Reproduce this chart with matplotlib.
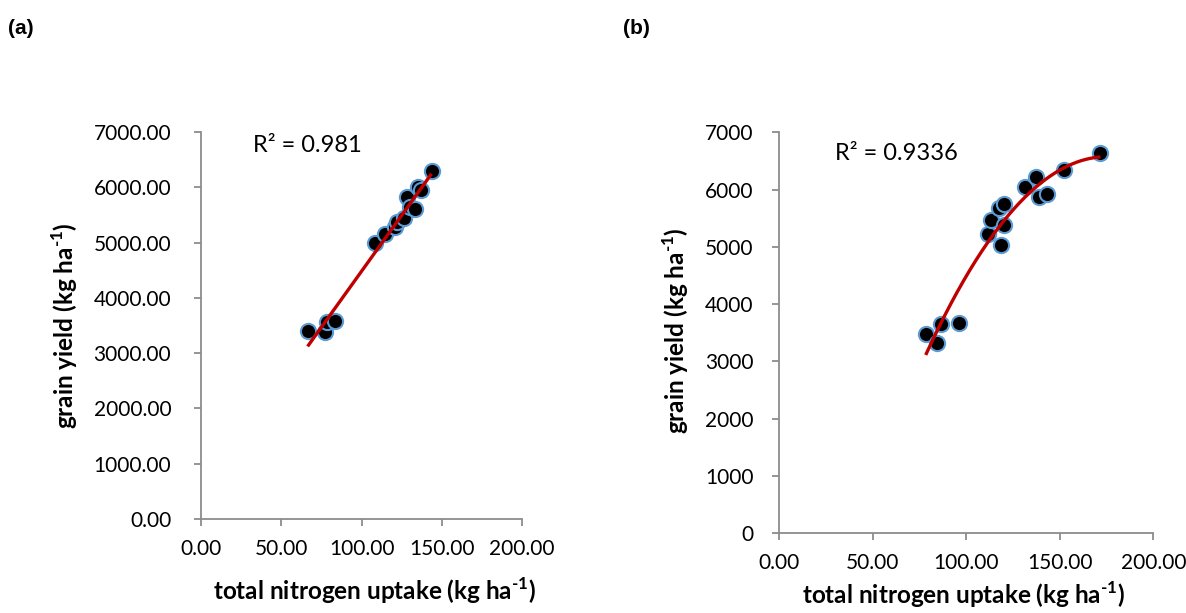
import numpy as np
import matplotlib
matplotlib.use("Agg")
import matplotlib.pyplot as plt
from matplotlib.ticker import FormatStrFormatter

plt.rcParams["font.family"] = ["Lato", "DejaVu Sans"]
plt.rcParams["mathtext.fontset"] = "custom"
plt.rcParams["mathtext.rm"] = "Lato"
plt.rcParams["mathtext.bf"] = "Lato:bold"

# panel (a): total N uptake vs grain yield
uptake_a = [66.4, 77.2, 78.3, 83.4, 108.3, 114.6, 120.8, 121.8, 126.4,
            128.1, 130.1, 133.2, 135.3, 136.8, 143.6]
yield_a = [3405, 3376, 3568, 3580, 4997, 5148, 5275, 5376, 5449,
           5817, 5648, 5600, 6009, 5949, 6298]
r2_a = "0.981"

# panel (b)
uptake_b = [78.4, 84.2, 86.5, 96.3, 111.8, 113.2, 118.6, 120.4, 117.7,
            120.2, 131.4, 137.3, 139.1, 143.3, 152.2, 171.8]
yield_b = [3468, 3322, 3643, 3660, 5219, 5464, 5026, 5377, 5669,
           5744, 6037, 6223, 5861, 5919, 6340, 6632]
r2_b = "0.9336"

x_ticks = [0, 50, 100, 150, 200]
y_ticks = [0, 1000, 2000, 3000, 4000, 5000, 6000, 7000]

AXIS_GREY = "#8c8c8c"
MARKER_EDGE = "#5b9bd5"
FIT_RED = "#c00000"

fig = plt.figure(figsize=(11.86, 6.13), dpi=100)
ax_a = fig.add_axes([0.1695, 0.1533, 0.2707, 0.6313])
ax_b = fig.add_axes([0.6568, 0.1305, 0.3156, 0.6537])


def style_axes(ax, yfmt, ypad):
    for side in ("top", "right"):
        ax.spines[side].set_visible(False)
    for side in ("left", "bottom"):
        ax.spines[side].set_color(AXIS_GREY)
        ax.spines[side].set_linewidth(1.3)
    ax.set_xlim(0, 200)
    ax.set_ylim(0, 7000)
    ax.set_xticks(x_ticks)
    ax.set_yticks(y_ticks)
    ax.xaxis.set_major_formatter(FormatStrFormatter("%.2f"))
    ax.yaxis.set_major_formatter(FormatStrFormatter(yfmt))
    ax.tick_params(direction="out", length=5, width=1.3, color=AXIS_GREY,
                   labelsize=15, labelcolor="black")
    ax.tick_params(axis="x", pad=9.5)
    ax.tick_params(axis="y", pad=ypad)


def draw_panel(ax, x, y, deg, r2, r2_pos):
    x = np.asarray(x, float)
    y = np.asarray(y, float)
    coef = np.polyfit(x, y, deg)
    xs = np.linspace(x.min(), x.max(), 200)
    ax.plot(xs, np.polyval(coef, xs), color=FIT_RED, lw=2.4, zorder=3,
            solid_capstyle="butt")
    ax.scatter(x, y, s=120, c="black", edgecolors=MARKER_EDGE,
               linewidths=1.5, zorder=2, clip_on=False)
    ax.text(r2_pos[0], r2_pos[1], "R² = " + r2, transform=ax.transAxes,
            fontsize=17, va="center", ha="left")


style_axes(ax_a, "%.2f", 16.5)
style_axes(ax_b, "%d", 13.5)
draw_panel(ax_a, uptake_a, yield_a, 1, r2_a, (0.162, 0.966))
draw_panel(ax_b, uptake_b, yield_b, 2, r2_b, (0.15, 0.948))

xlab = "total nitrogen uptake (kg ha$^{\\mathbf{\u2010 1}}$)"
ylab = "grain yield (kg ha$^{\\mathbf{\u2010 1}}$)"
for ax, xc, yc in ((ax_a, (0.539, -0.145), (-0.377, 0.50)),
                   (ax_b, (0.494, -0.117), (-0.235, 0.505))):
    ax.set_xlabel(xlab, fontsize=17.5, fontweight="bold")
    ax.set_ylabel(ylab, fontsize=17.5, fontweight="bold")
    ax.xaxis.set_label_coords(*xc)
    ax.yaxis.set_label_coords(*yc)

fig.text(0.007, 0.954, "(a)", fontsize=15, fontweight="bold",
         family="Liberation Sans", va="center")
fig.text(0.525, 0.954, "(b)", fontsize=15, fontweight="bold",
         family="Liberation Sans", va="center")

fig.savefig("out.png", dpi=100, facecolor="white")
